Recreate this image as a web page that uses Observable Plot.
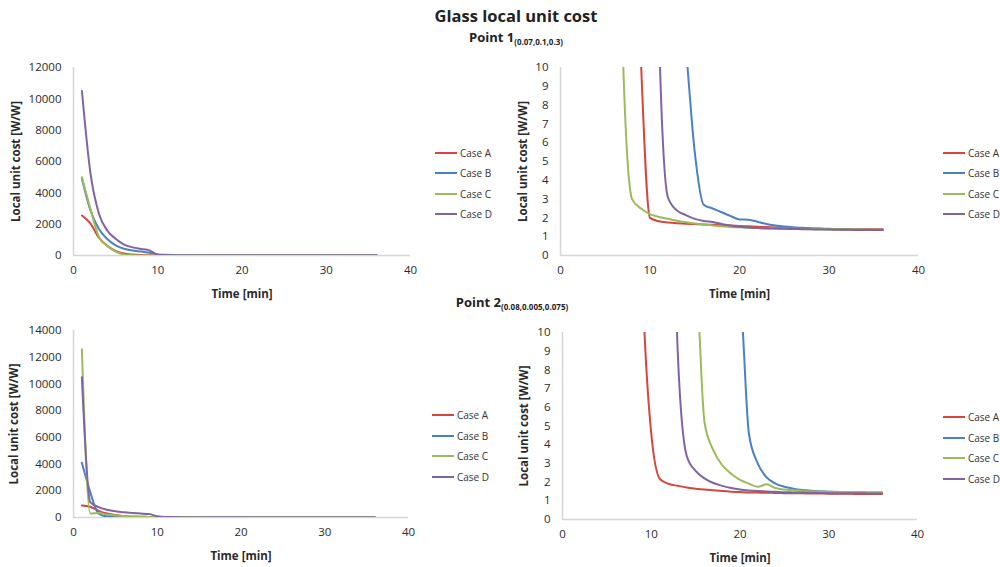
<!DOCTYPE html>
<html>
<head>
<meta charset="utf-8">
<script src="https://cdn.jsdelivr.net/npm/d3@7"></script>
<script src="https://cdn.jsdelivr.net/npm/@observablehq/plot@0.6"></script>
<style>
  html, body { margin: 0; padding: 0; background: #fff; }
  #root { position: relative; width: 1000px; height: 567px; overflow: hidden; font-family: "Open Sans", sans-serif; color: #222; }
  .abs { position: absolute; }
  .title { font-weight: bold; font-size: 16.5px; white-space: nowrap; transform: translateX(-50%); }
  .sub { font-weight: bold; font-size: 13px; white-space: nowrap; transform: translateX(-50%); }
  .sub sub { font-size: 8px; vertical-align: -3px; }
  .legend { font-size: 10px; color: #333; }
  .legend .row { position: absolute; left: 0; height: 14px; display: flex; align-items: center; white-space: nowrap; }
  .legend .swatch { display: inline-block; width: 22px; height: 2px; margin-right: 3px; }
  svg g[aria-label$="axis label"] text, svg g[aria-label$="axis label"] { font-weight: bold; }
</style>
</head>
<body>
<div id="root"></div>
<script>
// ---------- data ----------
const chartTitle = "Glass local unit cost";
const pointNames = ["Point 1", "Point 2"];
const pointCoords = ["(0.07,0.1,0.3)", "(0.08,0.005,0.075)"];
const cases = ["Case A", "Case B", "Case C", "Case D"];
const caseColors = ["#d4463f", "#4a80c4", "#9bbb59", "#8064a2"];
const xLabel = "Time [min]";
const yLabel = "Local unit cost [W/W]";
const xTicks = [0, 10, 20, 30, 40];
const yTicksP1Full = [0, 2000, 4000, 6000, 8000, 10000, 12000];
const yTicksP2Full = [0, 2000, 4000, 6000, 8000, 10000, 12000, 14000];
const yTicksZoom = [0, 1, 2, 3, 4, 5, 6, 7, 8, 9, 10];

const times = [1, 2, 3, 4, 5, 6, 7, 8, 9, 10, 11, 12, 13, 14, 15, 16, 17, 18,
  19, 20, 21, 22, 23, 24, 25, 26, 27, 28, 29, 30, 31, 32, 33, 34, 35, 36];

// Point 1
const p1CaseA = [2550, 2050, 1150, 620, 300, 130, 60, 25, 10.2, 2.0, 1.82, 1.76, 1.72, 1.69, 1.67, 1.65, 1.63, 1.61,
  1.59, 1.57, 1.55, 1.53, 1.51, 1.49, 1.47, 1.46, 1.45, 1.44, 1.43, 1.42, 1.41, 1.40, 1.40, 1.40, 1.40, 1.40];
const p1CaseB = [4900, 2900, 1700, 1050, 650, 430, 320, 250, 170, 70, 40, 25, 16, 11.1, 5.5, 2.7, 2.5, 2.3,
  2.1, 1.92, 1.9, 1.8, 1.68, 1.6, 1.54, 1.5, 1.47, 1.44, 1.42, 1.40, 1.39, 1.38, 1.37, 1.37, 1.36, 1.36];
const p1CaseC = [5000, 3000, 1200, 600, 250, 60, 10.3, 3.0, 2.5, 2.2, 2.05, 1.95, 1.85, 1.77, 1.7, 1.65, 1.6, 1.56,
  1.52, 1.5, 1.48, 1.46, 1.45, 1.44, 1.43, 1.42, 1.41, 1.40, 1.40, 1.39, 1.39, 1.38, 1.38, 1.37, 1.37, 1.37];
const p1CaseD = [10500, 5300, 2700, 1600, 1070, 700, 520, 420, 330, 50, 12, 3.1, 2.4, 2.15, 1.95, 1.84, 1.78, 1.68,
  1.6, 1.53, 1.49, 1.46, 1.44, 1.43, 1.42, 1.41, 1.40, 1.39, 1.38, 1.38, 1.37, 1.37, 1.36, 1.36, 1.36, 1.36];

// Point 2
const p2CaseA = [900, 800, 500, 300, 180, 100, 60, 35, 13, 4.6, 2.15, 1.9, 1.8, 1.71, 1.65, 1.6, 1.56, 1.52,
  1.49, 1.47, 1.45, 1.44, 1.43, 1.42, 1.41, 1.40, 1.40, 1.39, 1.39, 1.38, 1.38, 1.38, 1.37, 1.37, 1.37, 1.37];
const p2CaseB = [4100, 1900, 280, 90, 70, 60, 55, 50, 45, 40, 35, 30, 27, 24, 21, 18, 16, 14,
  13, 12, 4.6, 3.0, 2.25, 1.92, 1.75, 1.65, 1.58, 1.54, 1.51, 1.49, 1.47, 1.46, 1.45, 1.44, 1.43, 1.43];
const p2CaseC = [12600, 300, 330, 220, 150, 110, 80, 60, 45, 30, 20, 17, 15.5, 14.3, 13.2, 5.2, 3.7, 2.9,
  2.45, 2.12, 1.92, 1.75, 1.88, 1.68, 1.6, 1.56, 1.53, 1.51, 1.5, 1.49, 1.48, 1.47, 1.47, 1.46, 1.46, 1.46];
const p2CaseD = [10500, 1150, 780, 580, 460, 390, 340, 300, 260, 100, 40, 25, 8.8, 3.4, 2.6, 2.2, 1.95, 1.8,
  1.68, 1.6, 1.55, 1.52, 1.5, 1.48, 1.46, 1.45, 1.44, 1.43, 1.42, 1.41, 1.41, 1.40, 1.40, 1.40, 1.39, 1.39];

// ---------- build ----------
function rowsFor(seriesList) {
  const rows = [];
  seriesList.forEach((vals, i) => {
    vals.forEach((v, j) => rows.push({ t: times[j], v, case: cases[i] }));
  });
  return rows;
}
const p1Rows = rowsFor([p1CaseA, p1CaseB, p1CaseC, p1CaseD]);
const p2Rows = rowsFor([p2CaseA, p2CaseB, p2CaseC, p2CaseD]);

const root = document.getElementById("root");

function place(el, left, top) {
  el.classList.add("abs");
  el.style.left = left + "px";
  el.style.top = top + "px";
  root.appendChild(el);
  return el;
}

function panel(rows, opts) {
  const yMax = opts.yTicks[opts.yTicks.length - 1];
  const svg = Plot.plot({
    width: opts.width, height: opts.height,
    marginLeft: opts.marginLeft, marginRight: 10,
    marginTop: opts.marginTop, marginBottom: 45,
    style: { fontFamily: "'Open Sans', sans-serif", fontSize: "11.5px", color: "#2a2a2a", background: "transparent", overflow: "visible" },
    x: { domain: [0, 40], ticks: xTicks, tickSize: 0, tickPadding: 10, label: xLabel, labelArrow: "none", labelAnchor: "center", labelOffset: opts.xLabelOffset, tickFormat: d => String(d) },
    y: { domain: [0, yMax], ticks: opts.yTicks, tickSize: 0, tickPadding: 12, label: yLabel, labelArrow: "none", labelAnchor: "center", labelOffset: opts.yLabelOffset, tickFormat: d => String(d) },
    color: { domain: cases, range: caseColors },
    marks: [
      Plot.ruleX([0], { stroke: "#d6d6d6", strokeWidth: 1.5 }),
      Plot.ruleY([0], { stroke: "#d6d6d6", strokeWidth: 1.5 }),
      Plot.lineY(rows, { x: "t", y: "v", z: "case", stroke: "case", curve: "monotone-x", strokeWidth: 2, clip: true })
    ]
  });
  // fallback: strip any label arrows
  svg.querySelectorAll("text").forEach(el => {
    if (/[↑→←↓]/.test(el.textContent)) {
      el.textContent = el.textContent.replace(/\s*[↑→←↓]\s*/g, "").trim();
    }
  });
  return svg;
}

function legend(left, top, gap) {
  const box = document.createElement("div");
  box.className = "legend";
  cases.forEach((c, i) => {
    const row = document.createElement("div");
    row.className = "row";
    row.style.top = Math.round(i * gap) + "px";
    const sw = document.createElement("span");
    sw.className = "swatch";
    sw.style.background = caseColors[i];
    const tx = document.createElement("span");
    tx.textContent = c;
    row.appendChild(sw);
    row.appendChild(tx);
    box.appendChild(row);
  });
  return place(box, left, top);
}

// Title and subtitles
const t = document.createElement("div");
t.className = "title"; t.textContent = chartTitle;
place(t, 516, 4);

function subtitle(i, cx, top) {
  const s = document.createElement("div");
  s.className = "sub";
  s.append(pointNames[i]);
  const sb = document.createElement("sub");
  sb.textContent = pointCoords[i];
  s.appendChild(sb);
  place(s, cx, top);
}
subtitle(0, 516, 28);
subtitle(1, 512, 293);

// Panels
place(panel(p1Rows, { width: 420, height: 260, marginLeft: 73, marginTop: 27, yTicks: yTicksP1Full, xLabelOffset: 42, yLabelOffset: 62 }), 0, 40);
place(panel(p1Rows, { width: 428, height: 260, marginLeft: 60, marginTop: 27, yTicks: yTicksZoom, xLabelOffset: 42, yLabelOffset: 42 }), 500, 40);
place(panel(p2Rows, { width: 418, height: 252, marginLeft: 73, marginTop: 20, yTicks: yTicksP2Full, xLabelOffset: 42, yLabelOffset: 64 }), 0, 310);
place(panel(p2Rows, { width: 427, height: 254, marginLeft: 62, marginTop: 22, yTicks: yTicksZoom, xLabelOffset: 42, yLabelOffset: 43 }), 500, 310);

// Legends
legend(435, 146, 20.4);
legend(943, 146, 20.4);
legend(432, 408, 20.6);
legend(943, 410, 20.6);
</script>
</body>
</html>
